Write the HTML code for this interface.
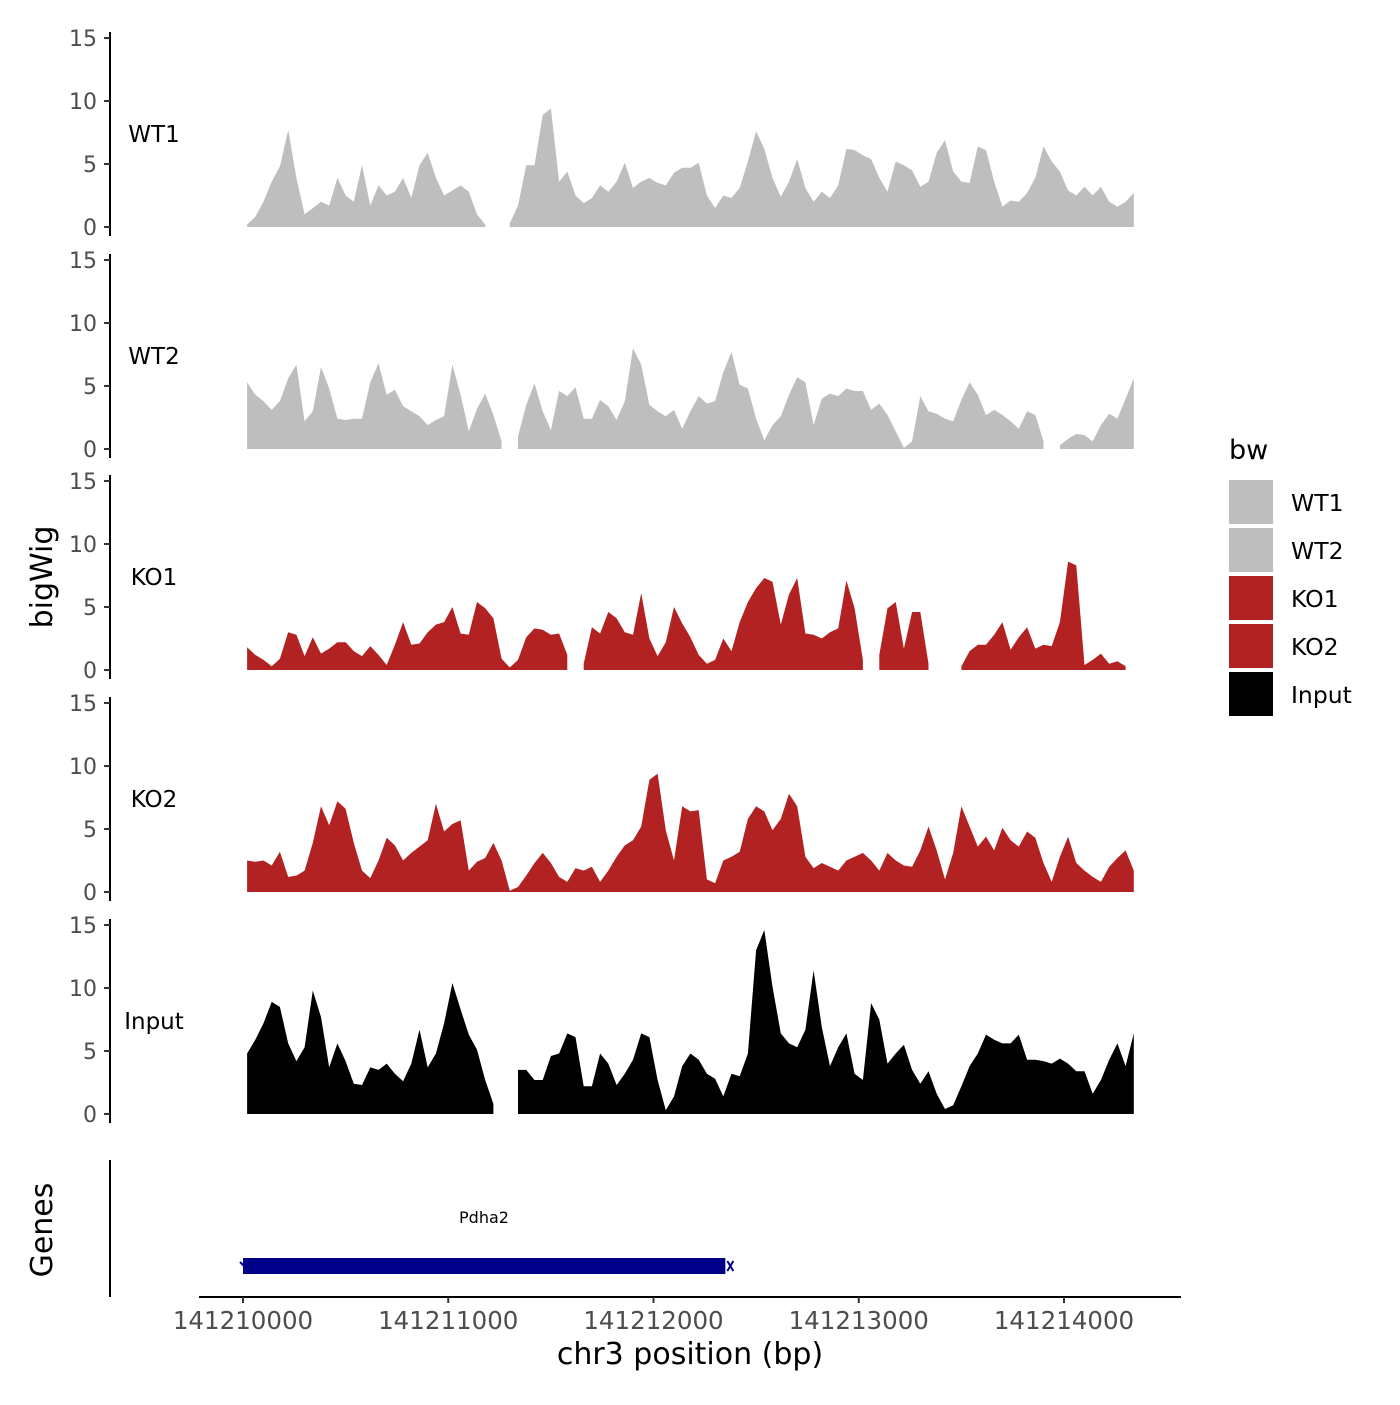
<!DOCTYPE html>
<html><head><meta charset="utf-8"><style>
body{margin:0;background:#fff;font-family:"Liberation Sans","DejaVu Sans",sans-serif}
svg text{font-family:"DejaVu Sans","Liberation Sans",sans-serif}
</style></head><body>
<svg id="chart" width="1400" height="1400" viewBox="0 0 1400 1400" xmlns="http://www.w3.org/2000/svg">
<rect width="1400" height="1400" fill="#fff"/>
<g id="tracks"></g>
<g id="genes">
  <line x1="110" y1="1160" x2="110" y2="1297" stroke="#000" stroke-width="2"/>
  <text x="52" y="1230" font-size="30" text-anchor="middle" transform="rotate(-90 52 1230)">Genes</text>
  <text x="484" y="1223" font-size="16" text-anchor="middle">Pdha2</text>
</g>
<text x="52" y="577" font-size="30" text-anchor="middle" transform="rotate(-90 52 577)">bigWig</text>
<g id="xaxis"></g>
<text x="690" y="1364" font-size="30" text-anchor="middle">chr3 position (bp)</text>
<g id="legend"></g>
</svg>
<script>
const NS="http://www.w3.org/2000/svg";
const binStart=20, binStep=40; // bp offsets from 141210000
const trackNames=["WT1","WT2","KO1","KO2","Input"];
const trackColors=["#bebebe","#bebebe","#b22222","#b22222","#000000"];
const wt1=[0.2,0.8,2.0,3.6,4.8,7.7,3.9,1.0,1.5,2.0,1.7,3.9,2.5,2.0,4.9,1.7,3.3,2.5,2.8,3.9,2.3,4.9,5.9,3.9,2.5,2.9,3.3,2.8,1.0,0.2,null,null,0.3,1.7,4.9,4.9,8.9,9.4,3.6,4.4,2.5,1.9,2.3,3.3,2.8,3.6,5.1,3.1,3.6,3.9,3.5,3.3,4.3,4.7,4.7,5.1,2.5,1.5,2.5,2.3,3.1,5.2,7.6,6.2,3.9,2.4,3.6,5.4,3.1,2.0,2.8,2.3,3.3,6.2,6.1,5.7,5.4,3.9,2.8,5.2,4.9,4.5,3.2,3.6,5.9,6.9,4.4,3.6,3.5,6.4,6.1,3.6,1.6,2.1,2.0,2.7,3.9,6.4,5.2,4.4,2.9,2.5,3.2,2.5,3.2,2.0,1.6,2.0,2.7];
const wt2=[5.3,4.3,3.8,3.1,3.8,5.6,6.7,2.2,3.0,6.5,4.8,2.4,2.3,2.4,2.4,5.3,6.8,4.3,4.7,3.4,3.0,2.6,1.9,2.3,2.6,6.7,4.3,1.4,3.2,4.4,2.7,0.6,null,1.0,3.5,5.2,3.0,1.5,4.6,4.2,4.9,2.4,2.4,3.9,3.4,2.3,3.8,8.0,6.7,3.5,3.0,2.6,3.1,1.6,3.0,4.2,3.6,3.8,6.1,7.7,5.1,4.8,2.4,0.7,1.9,2.6,4.3,5.7,5.3,1.9,4.0,4.4,4.2,4.8,4.6,4.6,3.1,3.6,2.7,1.4,0.1,0.6,4.2,3.0,2.8,2.4,2.2,3.9,5.3,4.3,2.7,3.1,2.7,2.2,1.6,3.0,2.7,0.6,null,0.3,0.8,1.2,1.1,0.6,1.9,2.8,2.4,4.0,5.6];
const ko1=[1.8,1.2,0.8,0.3,0.9,3.0,2.8,1.1,2.6,1.3,1.7,2.2,2.2,1.5,1.1,1.9,1.2,0.4,2.0,3.8,2.0,2.1,3.0,3.6,3.8,5.0,2.9,2.8,5.4,4.9,4.1,0.9,0.2,0.8,2.6,3.3,3.2,2.8,2.9,1.2,null,0.5,3.4,2.9,4.6,4.1,3.0,2.8,6.1,2.5,1.1,2.2,5.0,3.7,2.6,1.2,0.5,0.8,2.5,1.5,3.8,5.4,6.5,7.3,7.0,3.6,6.0,7.3,2.9,2.8,2.5,3.0,3.3,7.1,4.9,0.8,null,1.2,4.9,5.4,1.7,4.6,4.6,0.5,null,null,null,0.3,1.5,2.0,2.0,2.8,3.8,1.6,2.6,3.4,1.7,2.0,1.9,3.8,8.6,8.3,0.4,0.8,1.3,0.5,0.7,0.3,null];
const ko2=[2.5,2.4,2.5,2.1,3.2,1.2,1.3,1.7,3.9,6.8,5.3,7.2,6.6,3.9,1.7,1.1,2.5,4.3,3.7,2.5,3.1,3.6,4.1,7.0,4.8,5.4,5.7,1.7,2.4,2.7,3.9,2.5,0.1,0.4,1.3,2.3,3.1,2.3,1.2,0.8,1.9,1.7,2.0,0.8,1.7,2.8,3.7,4.1,5.2,8.9,9.4,4.9,2.5,6.8,6.4,6.5,1.0,0.7,2.5,2.8,3.2,5.8,6.8,6.4,4.9,5.8,7.8,6.8,2.8,1.9,2.3,2.0,1.7,2.5,2.8,3.1,2.5,1.7,3.1,2.5,2.1,2.0,3.3,5.2,3.3,1.0,3.1,6.8,5.2,3.6,4.4,3.3,5.1,4.1,3.6,4.8,4.3,2.3,0.8,2.8,4.4,2.3,1.7,1.2,0.8,2.0,2.7,3.3,1.7];
const input=[4.8,5.9,7.2,8.9,8.5,5.6,4.2,5.3,9.8,7.7,3.7,5.6,4.2,2.4,2.3,3.7,3.5,4.0,3.2,2.6,4.0,6.7,3.7,4.8,7.2,10.4,8.3,6.3,5.1,2.7,0.8,null,null,3.5,3.5,2.7,2.7,4.6,4.8,6.4,6.1,2.2,2.2,4.8,4.0,2.3,3.2,4.3,6.4,6.1,2.7,0.3,1.4,3.8,4.8,4.3,3.2,2.8,1.4,3.2,3.0,4.8,13.0,14.6,10.1,6.4,5.6,5.3,6.7,11.4,6.9,3.8,5.3,6.4,3.2,2.7,8.8,7.5,4.0,4.8,5.5,3.5,2.4,3.4,1.6,0.4,0.7,2.2,3.8,4.8,6.3,5.9,5.6,5.6,6.3,4.3,4.3,4.2,4.0,4.4,4.0,3.4,3.4,1.6,2.7,4.3,5.6,3.8,6.4];
const trackValues=[wt1,wt2,ko1,ko2,input];
const yTicks=[0,5,10,15];
const xTicks=[141210000,141211000,141212000,141213000,141214000];
const geneStart=141210000, geneEnd=141212350;

const xScale=bp=>243+(bp-141210000)*0.20525;
const panelBase=[227,449,670,892,1114];
const yScale=(v,p)=>panelBase[p]-v*12.6;
function mk(tag,attrs,parent){const e=document.createElementNS(NS,tag);for(const k in attrs)e.setAttribute(k,attrs[k]);parent.appendChild(e);return e;}
const tracks=document.getElementById('tracks');
trackValues.forEach((vals,p)=>{
  const g=mk('g',{},tracks);
  
  
  mk('line',{x1:110,y1:yScale(15,p)-6,x2:110,y2:panelBase[p]+9,stroke:'#000','stroke-width':2},g);
  yTicks.forEach(t=>{
    const y=yScale(t,p);
    mk('line',{x1:104,y1:y,x2:110,y2:y,stroke:'#333','stroke-width':2},g);
    const tx=mk('text',{x:97,y:y+8,'font-size':22,fill:'#4d4d4d','text-anchor':'end'},g);
    tx.textContent=t;
    
    
  });
  const lab=mk('text',{x:154,y:yScale(7,p)+3,'font-size':23,'text-anchor':'middle'},g);
  lab.textContent=trackNames[p];
  
  
  let seg=[];
  const flush=()=>{
    if(!seg.length)return;
    let d='M'+seg[0][0].toFixed(1)+','+panelBase[p];
    seg.forEach(pt=>d+='L'+pt[0].toFixed(1)+','+pt[1].toFixed(1));
    d+='L'+seg[seg.length-1][0].toFixed(1)+','+panelBase[p]+'Z';
    const a=mk('path',{d:d,fill:trackColors[p]},g);
    
    
    seg=[];
  };
  vals.forEach((v,i)=>{
    if(v===null){flush();return;}
    seg.push([xScale(141210000+binStart+i*binStep),yScale(v,p)]);
  });
  flush();
});
const genes=document.getElementById('genes');
const gb=mk('rect',{x:xScale(geneStart),y:1258,width:xScale(geneEnd)-xScale(geneStart),height:16,fill:'#00008b'},genes);


const ga=mk('path',{d:`M${xScale(geneEnd)+2},1261L${xScale(geneEnd)+8},1271M${xScale(geneEnd)+2},1271L${xScale(geneEnd)+8},1261M${xScale(geneStart)+1},1266L${xScale(geneStart)-3},1262`,stroke:'#00008b','stroke-width':2,fill:'none'},genes);


const xa=document.getElementById('xaxis');
mk('line',{x1:199,y1:1297,x2:1181,y2:1297,stroke:'#000','stroke-width':2},xa);
xTicks.forEach(t=>{
  const x=xScale(t);
  mk('line',{x1:x,y1:1297,x2:x,y2:1303,stroke:'#333','stroke-width':2},xa);
  const tx=mk('text',{x:x,y:1329,'font-size':24.5,fill:'#4d4d4d','text-anchor':'middle'},xa);
  tx.textContent=t;
  
  
});
const lg=document.getElementById('legend');
const lt=mk('text',{x:1229,y:459,'font-size':27},lg);
lt.textContent='bw';


trackNames.forEach((n,i)=>{
  const y=480+i*48;
  const r=mk('rect',{x:1229,y:y,width:44,height:44,fill:trackColors[i]},lg);
  
  
  const t=mk('text',{x:1291,y:y+31,'font-size':23.5},lg);
  t.textContent=n;
  
  
});
</script>
</body></html>
